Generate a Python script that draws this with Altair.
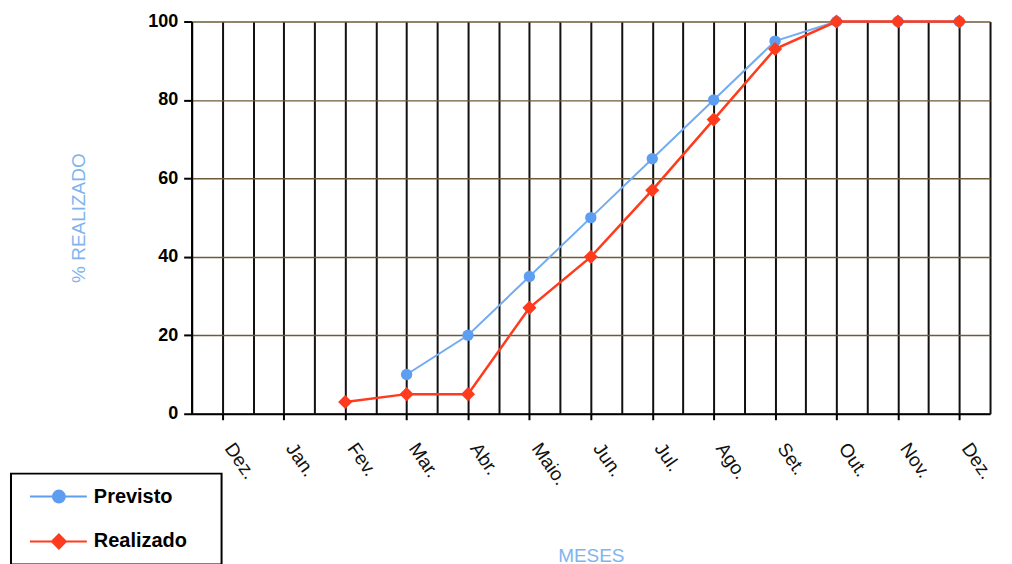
import json
import altair as alt
import numpy as np
import pandas as pd

months = ["Dez.", "Jan.", "Fev.", "Mar.", "Abr.", "Maio.", "Jun.", "Jul.",
          "Ago.", "Set.", "Out.", "Nov.", "Dez."]
previsto = [None, None, None, 10, 20, 35, 50, 65, 80, 95, 100, 100, 100]
realizado = [None, None, 3, 5, 5, 27, 40, 57, 75, 93, 100, 100, 100]
series = ["Previsto", "Realizado"]
colors = ["#5e9ef0", "#ff3b1e"]
line_colors = ["#72acf2", "#ff3b1e"]
y_ticks = [0, 20, 40, 60, 80, 100]

FONT = "Liberation Sans"
TITLE_COLOR = "#80b4ee"

rows = []
for i, (m, p, r) in enumerate(zip(months, previsto, realizado)):
    if p is not None:
        rows.append({"idx": i, "mes": m, "serie": "Previsto", "valor": p})
    if r is not None:
        rows.append({"idx": i, "mes": m, "serie": "Realizado", "valor": r})
df = pd.DataFrame(rows)

# gridlines at month centres and half-way between months
grid_vals = [float(v) for v in np.arange(-0.5, len(months) - 0.5 + 0.01, 0.5)]
label_expr = "datum.value % 1 == 0 ? " + json.dumps(months) + "[datum.value] : ''"

x_enc = alt.X(
    "idx:Q",
    scale=alt.Scale(domain=[-0.5, len(months) - 0.5], nice=False, zero=False),
    axis=alt.Axis(
        title="MESES",
        values=grid_vals,
        labelExpr=label_expr,
        labelAngle=55,
        labelAlign="left",
        labelBaseline="middle",
        labelPadding=25,
        labelOffset=6,
        labelFont=FONT,
        labelFontSize=19,
        labelColor="#111111",
        labelOverlap=False,
        labelFlush=False,
        tickSize=6,
        tickWidth=2,
        tickColor="black",
        tickOpacity={"condition": {"test": "datum.value % 1 == 0", "value": 1}, "value": 0},
        domainColor="black",
        domainWidth=2,
        grid=True,
        gridColor="#111111",
        gridWidth=2,
        titleFont=FONT,
        titleFontSize=19,
        titleFontWeight="normal",
        titleColor=TITLE_COLOR,
        titlePadding=58,
    ),
)
y_enc = alt.Y(
    "valor:Q",
    scale=alt.Scale(domain=[0, 100], nice=False),
    axis=alt.Axis(
        title="% REALIZADO",
        values=y_ticks,
        labelFont=FONT,
        labelFontSize=18,
        labelFontWeight="bold",
        labelColor="black",
        labelPadding=6,
        tickSize=8,
        tickWidth=2,
        tickColor="black",
        domainColor="black",
        domainWidth=2,
        grid=True,
        gridColor="#6e5a38",
        gridWidth=1.5,
        titleFont=FONT,
        titleFontSize=19,
        titleFontWeight="normal",
        titleColor=TITLE_COLOR,
        titlePadding=59,
    ),
)

base = alt.Chart(df)

prev_line = base.transform_filter(alt.datum.serie == "Previsto").mark_line(
    color=line_colors[0], strokeWidth=2).encode(x=x_enc, y=y_enc)
prev_pts = base.transform_filter(alt.datum.serie == "Previsto").mark_point(
    shape="circle", filled=True, size=130, color=colors[0], opacity=1).encode(x=x_enc, y=y_enc)
real_line = base.transform_filter(alt.datum.serie == "Realizado").mark_line(
    color=line_colors[1], strokeWidth=2.5).encode(x=x_enc, y=y_enc)
real_pts = base.transform_filter(alt.datum.serie == "Realizado").mark_point(
    shape="diamond", filled=True, size=200, color=colors[1], opacity=1).encode(x=x_enc, y=y_enc)

# legend symbols: a line segment through a marker (unit = sqrt(size)/2 = 10 px);
# the trailing move-to only widens the legend box, it draws nothing
circle_sym = ("M-0.4,0L1.9,0M1.9,0A0.6,0.6,0,1,0,3.1,0A0.6,0.6,0,1,0,1.9,0Z"
              "M3.1,0L5.3,0M17.2,0")
diamond_sym = "M-0.4,0L1.8,0M2.5,-0.7L3.2,0L2.5,0.7L1.8,0ZM3.2,0L5.3,0M17.2,0"

leg = dict(
    orient="none", legendX=-181, legendY=453, title=None,
    labelFont=FONT, labelFontSize=20, labelFontWeight="bold", labelColor="black",
    labelOffset=49, symbolSize=400, symbolStrokeWidth=2,
    padding=12, rowPadding=23, strokeColor="black",
)
legend_layer = base.transform_filter("false").mark_point(
    filled=True, size=400, strokeWidth=2, opacity=1).encode(
    x=x_enc, y=y_enc,
    fill=alt.Fill("serie:N", scale=alt.Scale(domain=series, range=colors), legend=alt.Legend(**leg)),
    stroke=alt.Stroke("serie:N", scale=alt.Scale(domain=series, range=colors), legend=alt.Legend(**leg)),
    shape=alt.Shape("serie:N", scale=alt.Scale(domain=series, range=[circle_sym, diamond_sym]),
                    legend=alt.Legend(**leg)),
)

chart = alt.layer(prev_line, prev_pts, real_line, real_pts, legend_layer).properties(
    width=800, height=393,
    padding={"left": 2, "top": 4, "right": 0, "bottom": 0},
    background="white",
).configure_view(stroke=None).configure_legend(strokeWidth=2)

chart.save("out.html", embed_options={"renderer": "svg", "actions": False})
